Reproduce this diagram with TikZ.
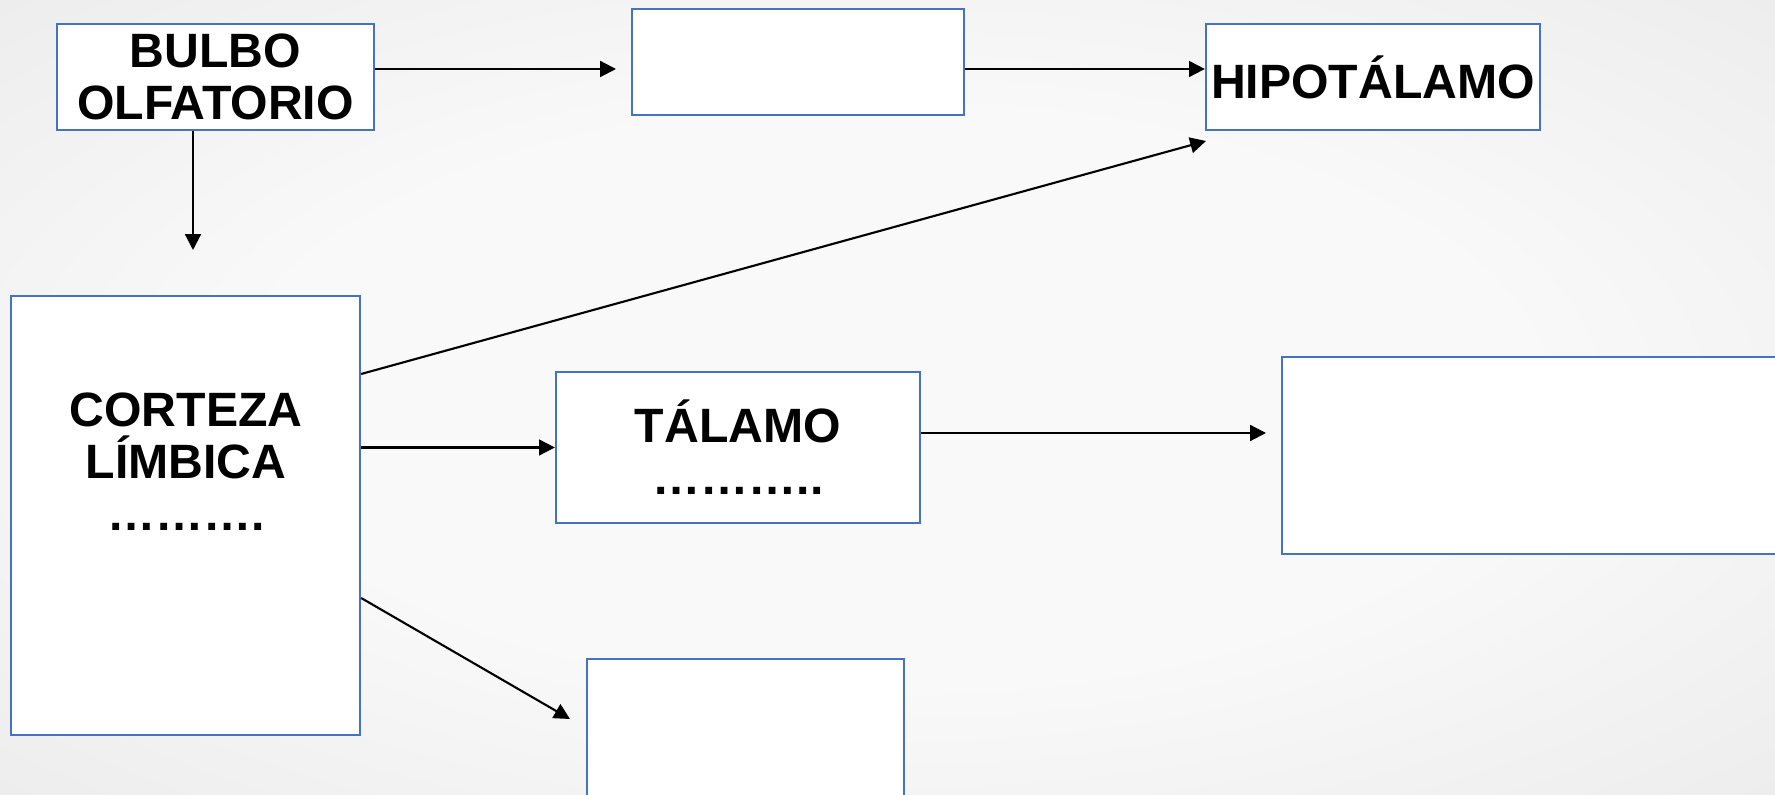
\documentclass[tikz,border=0pt]{standalone}
\usepackage{fontspec}
\setmainfont{Liberation Sans}
\usepackage{tikz}
\usetikzlibrary{arrows.meta}
\definecolor{azulcaja}{RGB}{68,114,196}
\definecolor{fondoin}{RGB}{249,249,249}
\definecolor{fondoout}{RGB}{220,220,220}
\pgfdeclareradialshading{fondo}{\pgfpoint{0bp}{0bp}}{color(0bp)=(fondoin); color(18bp)=(fondoin); color(60bp)=(fondoout)}
\tikzset{
	caja/.style={draw=azulcaja,line width=0.6pt,fill=white,inner sep=0pt,align=center,font=\bfseries\fontsize{13.7}{14.8}\selectfont},
	texto/.style={inner sep=0pt,align=center,font=\bfseries\fontsize{13.7}{14.8}\selectfont},
	flecha/.style={line width=0.6pt,-{Triangle[length=4.5pt,width=4.5pt]}}
}

\begin{document}
\begin{tikzpicture}[x=0.01cm,y=-0.01cm]
	\useasboundingbox (0,0) rectangle (1775,795);
	\clip (0,0) rectangle (1775,795);
	\shade[shading=fondo] (0,0) rectangle (1775,795);
	
	\node[caja,minimum width=3.17cm,minimum height=1.06cm] (bulbo) at (215.5,77) {BULBO\\OLFATORIO};
	\node[caja,minimum width=3.32cm,minimum height=1.06cm] (medio) at (798,62) {};
	\node[caja,minimum width=3.34cm,minimum height=1.06cm] (hipo) at (1373,77) {HIPOT\'ALAMO};
	\node[caja,minimum width=3.49cm,minimum height=4.39cm] (corteza) at (185.5,515.5) {};
	\node[texto,anchor=north] (cortezatxt) at (186,392) {CORTEZA\\L\'IMBICA\\……….};
	\node[caja,minimum width=3.64cm,minimum height=1.51cm] (talamo) at (738,447.5) {T\'ALAMO\\………..};
	\node[caja,minimum width=5.18cm,minimum height=1.97cm] (derecha) at (1541,455.5) {};
	\node[caja,minimum width=3.17cm,minimum height=1.61cm] (abajo) at (745.5,739.5) {};
	
	\coordinate (a1) at (616,69);
	\coordinate (a2) at (193,250);
	\coordinate (c1) at (0,374);
	\coordinate (a3) at (1206,141);
	\coordinate (c2) at (0,598);
	\coordinate (a4) at (570,719);
	\coordinate (a5) at (1266,433);
	
	\draw[flecha] (bulbo.east |- a1) -- (a1);
	\draw[flecha] (medio.east |- a1) -- (hipo.west |- a1);
	\draw[flecha] (bulbo.south -| a2) -- (a2);
	\draw[flecha] (corteza.east |- c1) -- (a3);
	\draw[flecha] (corteza.east |- talamo.west) -- (talamo.west);
	\draw[flecha] (corteza.east |- c2) -- (a4);
	\draw[flecha] (talamo.east |- a5) -- (a5);
\end{tikzpicture}
\end{document}
